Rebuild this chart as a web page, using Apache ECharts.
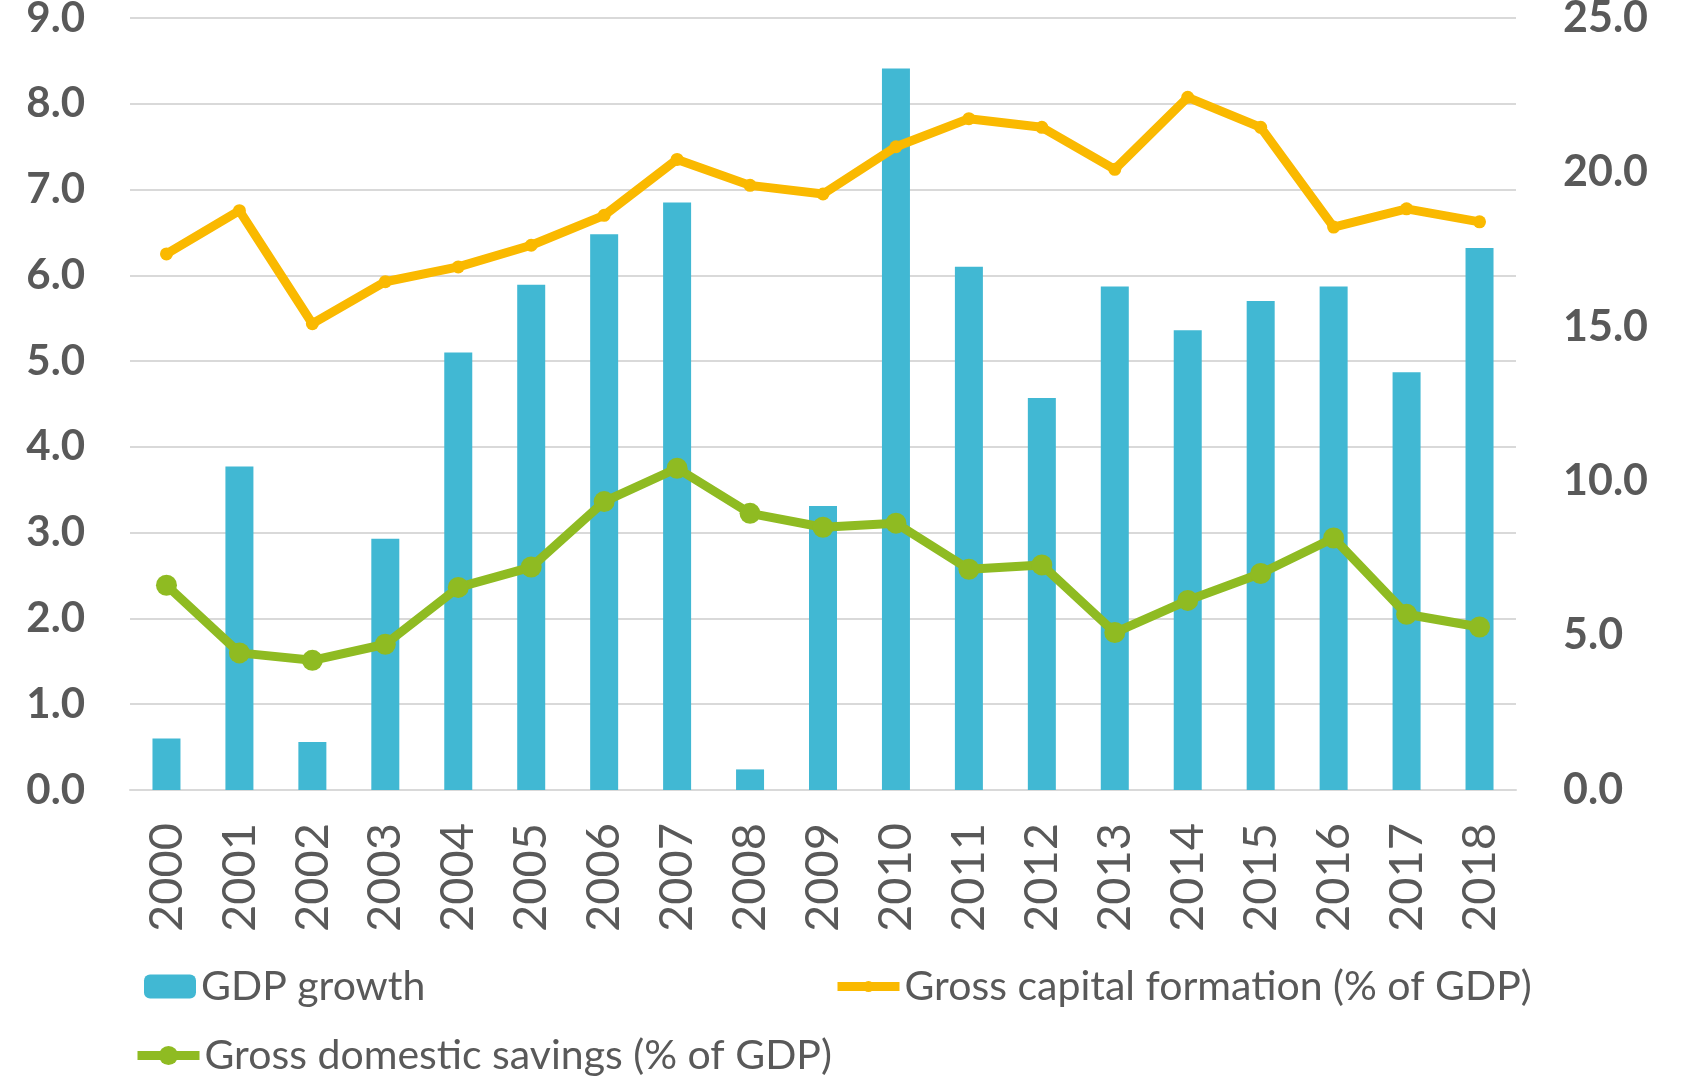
<!DOCTYPE html>
<html>
<head>
<meta charset="utf-8">
<script src="https://cdn.jsdelivr.net/npm/echarts@6/dist/echarts.min.js"></script>
<style>
  html, body { margin: 0; padding: 0; background: #fff; }
  #chart { width: 1681px; height: 1078px; }
</style>
</head>
<body>
<div id="chart"></div>
<script>
  const years = ['2000', '2001', '2002', '2003', '2004', '2005', '2006', '2007', '2008', '2009',
    '2010', '2011', '2012', '2013', '2014', '2015', '2016', '2017', '2018']
  // GDP growth, left axis
  const gdpGrowth = [0.6, 3.77, 0.56, 2.93, 5.1, 5.89, 6.48, 6.85, 0.24, 3.31,
    8.41, 6.1, 4.57, 5.87, 5.36, 5.7, 5.87, 4.87, 6.32]
  // right axis
  const capitalFormation = [17.36, 18.76, 15.1, 16.46, 16.94, 17.64, 18.61, 20.42, 19.58, 19.3,
    20.83, 21.74, 21.46, 20.1, 22.43, 21.46, 18.23, 18.82, 18.4]
  const domesticSavings = [6.63, 4.44, 4.2, 4.72, 6.56, 7.22, 9.34, 10.42, 8.96, 8.51,
    8.64, 7.15, 7.29, 5.1, 6.14, 7.01, 8.16, 5.69, 5.28]

  const GREY = '#595959'
  const FONT = 'Lato'

  let chart = echarts.init(document.getElementById('chart'))
  let legendText = { fontSize: 41, color: GREY, fontFamily: FONT }

  let option = {
    backgroundColor: '#fff',
    animation: false,
    grid: { left: 130, right: 165, top: 18, bottom: 288, outerBoundsMode: 'none' },
    legend: [
      { data: ['GDP growth'], left: 139, top: 961, itemWidth: 52, itemHeight: 24, textStyle: legendText },
      { data: ['Gross capital formation (% of GDP)'], left: 828, top: 961, itemWidth: 62, itemHeight: 14,
        lineStyle: { width: 9 }, textStyle: legendText },
      { data: ['Gross domestic savings (% of GDP)'], left: 128, top: 1030, itemWidth: 62, itemHeight: 24,
        lineStyle: { width: 9 }, textStyle: legendText }
    ],
    xAxis: {
      type: 'category',
      data: years,
      axisTick: { show: false },
      axisLine: { lineStyle: { color: '#d9d9d9', width: 2 } },
      axisLabel: { rotate: 90, margin: 33, fontSize: 47, color: GREY, fontFamily: FONT }
    },
    yAxis: [
      {
        type: 'value', min: 0, max: 9, interval: 1,
        axisLine: { show: false }, axisTick: { show: false },
        splitLine: { lineStyle: { color: '#d9d9d9', width: 2 } },
        axisLabel: { margin: 45, fontSize: 42, fontWeight: 'bold', color: GREY, fontFamily: FONT,
          formatter: v => v.toFixed(1) }
      },
      {
        type: 'value', min: 0, max: 25, interval: 5,
        axisLine: { show: false }, axisTick: { show: false },
        splitLine: { show: false },
        axisLabel: { margin: 47, fontSize: 43, fontWeight: 'bold', color: GREY, fontFamily: FONT,
          formatter: v => v.toFixed(1) }
      }
    ],
    series: [
      {
        name: 'GDP growth', type: 'bar', data: gdpGrowth, barWidth: 28,
        itemStyle: { color: '#41b8d3' }
      },
      {
        name: 'Gross capital formation (% of GDP)', type: 'line', yAxisIndex: 1, data: capitalFormation,
        symbol: 'circle', symbolSize: 13,
        lineStyle: { width: 9, color: '#fab900' }, itemStyle: { color: '#fab900' }
      },
      {
        name: 'Gross domestic savings (% of GDP)', type: 'line', yAxisIndex: 1, data: domesticSavings,
        symbol: 'circle', symbolSize: 21,
        lineStyle: { width: 9, color: '#8fbb22' }, itemStyle: { color: '#8fbb22' }
      }
    ]
  }
  chart.setOption(option)
</script>
</body>
</html>
